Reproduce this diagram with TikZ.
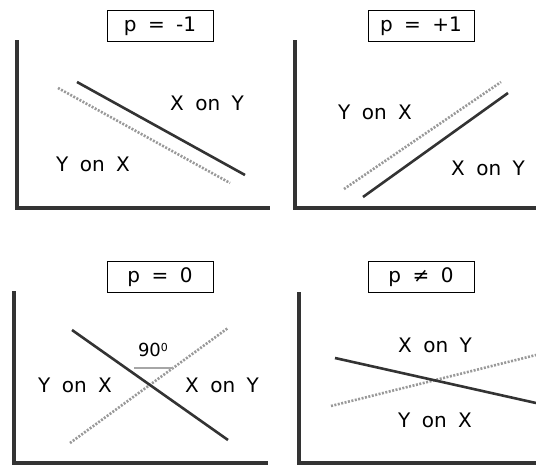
\documentclass[tikz,border=0pt]{standalone}
\usepackage{fontspec}
\setmainfont{DejaVu Sans}[WordSpace=1.8]
\begin{document}
\begin{tikzpicture}[x=1pt,y=-1pt,
  axis/.style={draw=black!80,line width=3.5pt},
  solidreg/.style={draw=black!80,line width=2.6pt},
  dotreg/.style={draw=black!40,line width=2.6pt,dash pattern=on 2pt off 1.5pt},
  title/.style={draw,line width=0.8pt,minimum width=106pt,minimum height=31pt,inner sep=0pt,font=\fontsize{20}{24}\selectfont},
  lbl/.style={inner sep=0pt,font=\fontsize{20}{24}\selectfont}]
\useasboundingbox (0,0) rectangle (536,466);
% panel 1
\node[title] (t1) at (160,26) {p = -1};
\coordinate (a1o) at (17,40); \coordinate (a1c) at (17,208); \coordinate (a1e) at (270,208);
\draw[axis] (a1o) -- (a1c) -- (a1e);
\coordinate (s1a) at (77,82); \coordinate (s1b) at (245,175);
\coordinate (d1a) at (58,88); \coordinate (d1b) at (230,183);
\draw[dotreg] (d1a) -- (d1b);
\draw[solidreg] (s1a) -- (s1b);
\node[lbl] (x1) at (207,103) {X on Y};
\node[lbl] (y1) at (93,164) {Y on X};
% panel 2
\node[title] (t2) at (421,26) {p = +1};
\coordinate (a2o) at (295,40); \coordinate (a2c) at (295,208); \coordinate (a2e) at (536,208);
\draw[axis] (a2o) -- (a2c) -- (a2e);
\coordinate (s2a) at (363,197); \coordinate (s2b) at (508,93);
\coordinate (d2a) at (344,189); \coordinate (d2b) at (501,82);
\draw[dotreg] (d2a) -- (d2b);
\draw[solidreg] (s2a) -- (s2b);
\node[lbl] (y2) at (375,112) {Y on X};
\node[lbl] (x2) at (488,168) {X on Y};
% panel 3
\node[title] (t3) at (160,277) {p = 0};
\coordinate (a3o) at (14,291); \coordinate (a3c) at (14,463); \coordinate (a3e) at (268,463);
\draw[axis] (a3o) -- (a3c) -- (a3e);
\coordinate (s3a) at (72,330); \coordinate (s3b) at (228,440);
\coordinate (d3a) at (70,443); \coordinate (d3b) at (228,328);
\draw[dotreg] (d3a) -- (d3b);
\draw[solidreg] (s3a) -- (s3b);
\coordinate (m3a) at (134,368); \coordinate (m3b) at (173,368);
\draw[black!35,line width=2pt] (m3a) -- (m3b);
\node[lbl,font=\fontsize{18}{22}\selectfont] (n90) at (153,350) {90\raisebox{0.55ex}{\fontsize{11}{13}\selectfont 0}};
\node[lbl] (y3) at (75,385) {Y on X};
\node[lbl] (x3) at (222,385) {X on Y};
% panel 4
\node[title] (t4) at (421,277) {p ≠ 0};
\coordinate (a4o) at (299,292); \coordinate (a4c) at (299,463); \coordinate (a4e) at (536,463);
\draw[axis] (a4o) -- (a4c) -- (a4e);
\coordinate (s4a) at (335,358); \coordinate (s4b) at (536,403);
\coordinate (d4a) at (331,406); \coordinate (d4b) at (536,355);
\draw[dotreg] (d4a) -- (d4b);
\draw[solidreg] (s4a) -- (s4b);
\node[lbl] (x4) at (435,345) {X on Y};
\node[lbl] (y4) at (435,420) {Y on X};
\end{tikzpicture}
\end{document}
